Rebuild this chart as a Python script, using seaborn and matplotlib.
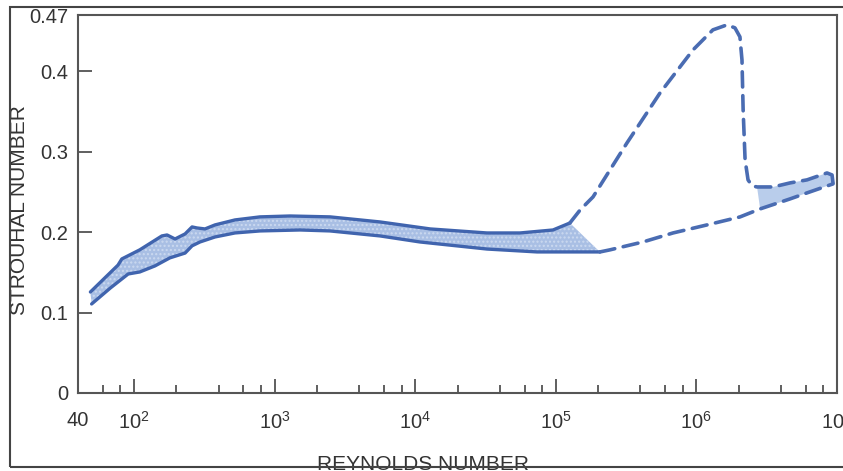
import numpy as np
import pandas as pd
import matplotlib
matplotlib.use("Agg")
import matplotlib.pyplot as plt
from matplotlib.patches import Rectangle
import seaborn as sns

# ---- data ----
band_upper_re = [49, 62, 77, 82, 110, 158, 172, 196, 231, 259, 281, 320, 377, 523,
                 788, 1290, 2480, 5620, 12800, 32400, 55700, 95500, 126000]
band_upper_st = [0.1256, 0.143, 0.159, 0.1667, 0.178, 0.1953, 0.1965, 0.1915, 0.1978,
                 0.2065, 0.2052, 0.204, 0.209, 0.2152, 0.219, 0.2201, 0.219, 0.2127,
                 0.204, 0.199, 0.199, 0.2027, 0.2114]

band_lower_re = [50, 68, 91, 110, 141, 180, 231, 259, 295, 377, 523, 788, 1520, 2480,
                 5620, 10800, 32400, 73600, 206000]
band_lower_st = [0.1107, 0.1306, 0.148, 0.1505, 0.158, 0.168, 0.174, 0.183, 0.1878,
                 0.194, 0.199, 0.2015, 0.2027, 0.2015, 0.1953, 0.1878, 0.179, 0.1754,
                 0.1754]

dash_upper_re = [126000, 149000, 184000, 321000, 551000, 946000, 1.31e6, 1.65e6, 1.88e6,
                 2.04e6, 2.11e6, 2.15e6, 2.22e6, 2.33e6, 2.49e6, 2.70e6, 3.51e6, 4.63e6,
                 6.12e6, 8.49e6, 9.22e6, 9.37e6]
dash_upper_st = [0.2114, 0.2276, 0.2438, 0.311, 0.373, 0.4266, 0.4515, 0.4577, 0.454,
                 0.4428, 0.414, 0.352, 0.2898, 0.265, 0.2575, 0.2562, 0.2562, 0.2612,
                 0.265, 0.2736, 0.2711, 0.2612]

dash_lower_re = [206000, 243000, 417000, 682000, 1.19e6, 2.04e6, 2.84e6, 4.63e6, 6.12e6, 9.37e6]
dash_lower_st = [0.1754, 0.178, 0.1878, 0.199, 0.209, 0.2189, 0.2289, 0.2413, 0.2488, 0.26]

x_ticks = [40, 1e2, 1e3, 1e4, 1e5, 1e6, 1e7]
x_ticklabels = ["40", r"$10^{2}$", r"$10^{3}$", r"$10^{4}$", r"$10^{5}$", r"$10^{6}$", r"$10^{7}$"]
y_ticks = [0, 0.1, 0.2, 0.3, 0.4, 0.47]
y_ticklabels = ["0", "0.1", "0.2", "0.3", "0.4", "0.47"]

# ---- style ----
sns.set_theme(style="white")
plt.rcParams["font.family"] = ["Liberation Sans", "DejaVu Sans"]
plt.rcParams["mathtext.default"] = "regular"

LINE = "#4064ae"
DASH = "#4a6cb2"
FILL = "#a9bfe4"
TXT = "#333333"
DASHPAT = (0, (4.2, 2.4))

fig = plt.figure(figsize=(8.43, 4.71), dpi=100)
ax = fig.add_axes([78 / 843, 1 - 393 / 471, (837 - 78) / 843, (393 - 15) / 471])

# band fill (upper edge then lower edge reversed)
poly_x = band_upper_re + band_lower_re[::-1]
poly_y = band_upper_st + band_lower_st[::-1]
ax.fill(poly_x, poly_y, facecolor=FILL, edgecolor="none", zorder=1)
ax.fill(poly_x, poly_y, facecolor="none", edgecolor="#cbd9f0", hatch="....",
        linewidth=0, zorder=1.1)

# light fill between dashed branches at the right end
rx = dash_upper_re[15:] + dash_lower_re[6:][::-1]
ry = dash_upper_st[15:] + dash_lower_st[6:][::-1]
ax.fill(rx, ry, facecolor="#b9cdeb", edgecolor="none", zorder=1)

df_u = pd.DataFrame({"Re": band_upper_re, "St": band_upper_st})
df_l = pd.DataFrame({"Re": band_lower_re, "St": band_lower_st})
df_du = pd.DataFrame({"Re": dash_upper_re, "St": dash_upper_st})
df_dl = pd.DataFrame({"Re": dash_lower_re, "St": dash_lower_st})

sns.lineplot(data=df_u, x="Re", y="St", ax=ax, color=LINE, linewidth=2.4,
             estimator=None, sort=False, zorder=3)
sns.lineplot(data=df_l, x="Re", y="St", ax=ax, color=LINE, linewidth=2.4,
             estimator=None, sort=False, zorder=3)
sns.lineplot(data=df_du, x="Re", y="St", ax=ax, color=DASH, linewidth=2.6,
             estimator=None, sort=False, zorder=3)
sns.lineplot(data=df_dl, x="Re", y="St", ax=ax, color=DASH, linewidth=2.6,
             estimator=None, sort=False, zorder=3)
for ln in ax.lines[:2]:
    ln.set_solid_joinstyle("round")
    ln.set_solid_capstyle("round")
for ln in ax.lines[2:]:
    ln.set_linestyle(DASHPAT)
    ln.set_dash_capstyle("round")
    ln.set_dash_joinstyle("round")

ax.set_xscale("log")
ax.set_xlim(40, 1e7)
ax.set_ylim(0, 0.47)

ax.xaxis.set_major_locator(matplotlib.ticker.FixedLocator(x_ticks))
ax.xaxis.set_major_formatter(matplotlib.ticker.FixedFormatter(x_ticklabels))
ax.xaxis.set_minor_locator(matplotlib.ticker.LogLocator(base=10, subs=(2, 4, 6, 8), numticks=20))
ax.xaxis.set_minor_formatter(matplotlib.ticker.NullFormatter())
ax.set_yticks(y_ticks)
ax.set_yticklabels(y_ticklabels)

ax.tick_params(axis="x", which="major", direction="in", length=10, width=1.2,
               color="#444444", pad=13, labelsize=14.5, labelcolor=TXT, bottom=True, top=False)
ax.tick_params(axis="x", which="minor", direction="in", length=6, width=1.2,
               color="#444444", bottom=True, top=False)
ax.tick_params(axis="y", which="major", direction="in", length=10, width=1.2,
               color="#444444", pad=7, labelsize=14.5, labelcolor=TXT, left=True, right=False)

for s in ax.spines.values():
    s.set_color("#555555")
    s.set_linewidth(1.5)

ax.set_xlabel("REYNOLDS NUMBER", fontsize=15, color=TXT)
ax.set_ylabel("STROUHAL NUMBER", fontsize=15, color=TXT)
ax.xaxis.set_label_coords(0.455, -0.163)
ax.yaxis.set_label_coords(-0.064, 0.484)

# outer frame of the figure
fig.patches.append(Rectangle((10 / 843, 1 - 467 / 471), 840 / 843, 460 / 471,
                             transform=fig.transFigure, fill=False,
                             edgecolor="#444444", linewidth=1.5, clip_on=False))

fig.savefig("out.png", dpi=100)
